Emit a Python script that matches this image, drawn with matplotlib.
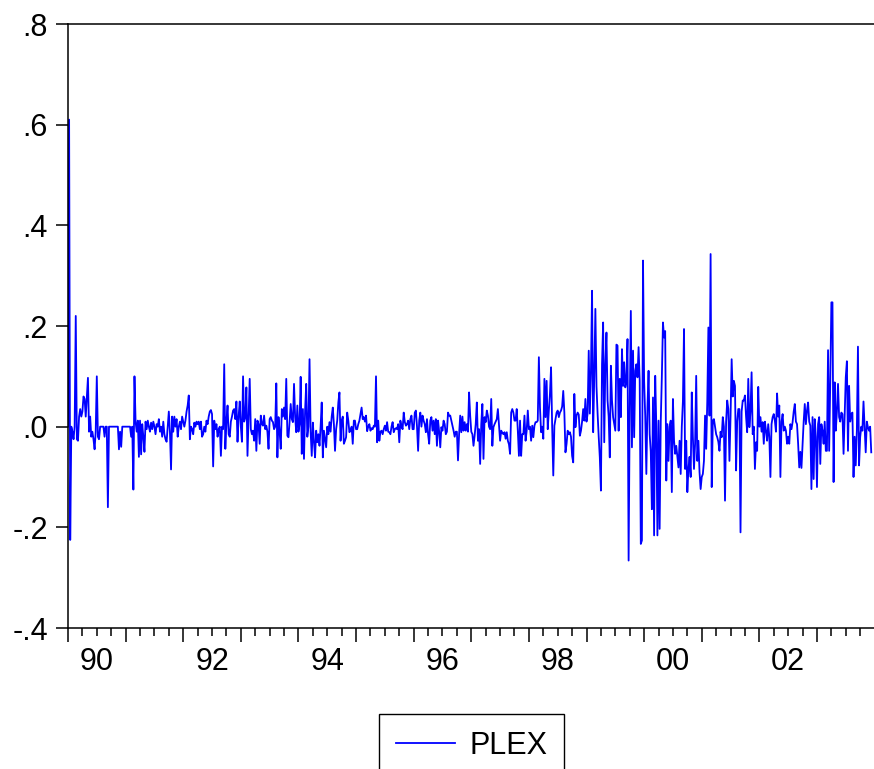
import numpy as np
import matplotlib
matplotlib.use("Agg")
import matplotlib.pyplot as plt

plt.rcParams['font.family'] = ['Liberation Sans', 'DejaVu Sans']

# weekly PLEX values, one list per year
y1990 = [0.0, 0.61, -0.225, 0.0, -0.01, -0.025, 0.0, 0.22, -0.025, -0.028, 0.02, 0.035, 0.02,
         0.03, 0.06, 0.055, 0.02, 0.06, 0.097, -0.01, 0.02, -0.02, -0.01, -0.025, -0.045, -0.01,
         0.1, -0.02, -0.025, 0.0, 0.0, 0.0, 0.0, -0.02, 0.0, 0.0, -0.16, 0.0, 0.0,
         0.0, 0.0, 0.0, 0.0, 0.0, 0.0, 0.0, -0.045, -0.01, -0.04, 0.0, 0.0, 0.0]
y1991 = [0.0, 0.0, 0.0, 0.0, 0.0, -0.02, 0.0, -0.125, 0.1, 0.01, -0.01, 0.012, -0.06,
         0.012, -0.055, 0.005, -0.02, -0.05, 0.01, -0.005, 0.012, 0.0, -0.01, 0.008, -0.005, 0.01,
         0.0, -0.015, 0.005, 0.0, 0.015, -0.01, 0.0, -0.02, 0.01, -0.015, -0.025, -0.03, 0.0,
         0.03, -0.01, -0.085, 0.02, -0.01, 0.02, 0.0, 0.015, -0.02, 0.0, 0.01, -0.005, 0.02]
y1992 = [0.01, 0.0, 0.012, 0.03, 0.042, 0.062, -0.025, 0.0, -0.005, -0.015, 0.008, 0.0, 0.01,
         0.005, 0.01, -0.005, 0.01, -0.02, -0.015, 0.0, -0.01, 0.012, 0.005, 0.02, 0.03, 0.033,
         0.025, -0.079, 0.012, -0.005, 0.005, -0.02, -0.005, 0.0, -0.058, 0.0, -0.005, 0.124, -0.044,
         0.01, 0.042, -0.015, -0.02, 0.01, 0.02, 0.032, 0.035, 0.015, 0.05, -0.03, 0.02, 0.05]
y1993 = [0.0, -0.03, 0.1, 0.01, 0.018, 0.078, -0.058, 0.02, 0.095, -0.005, -0.015, -0.008, -0.028,
         0.015, -0.048, 0.012, 0.005, -0.034, 0.022, 0.005, 0.002, 0.022, -0.005, 0.002, -0.01, -0.044,
         0.015, 0.019, 0.012, 0.009, -0.005, 0.0, 0.086, -0.061, 0.019, -0.01, -0.044, 0.035, 0.02,
         0.038, 0.015, 0.095, -0.018, -0.021, 0.01, 0.045, 0.015, 0.009, 0.085, 0.02, -0.011, 0.042]
y1994 = [-0.01, 0.005, 0.099, -0.054, 0.035, -0.064, 0.032, 0.085, -0.02, 0.0, 0.134, -0.01, -0.058,
         0.008, -0.03, -0.061, -0.008, -0.031, -0.015, -0.038, 0.0, 0.048, -0.061, -0.008, -0.025, -0.041,
         0.0, -0.015, 0.009, -0.01, 0.02, 0.038, 0.005, -0.048, -0.005, 0.012, 0.048, 0.068, -0.028,
         0.012, 0.02, -0.034, -0.028, -0.021, 0.028, 0.012, -0.011, -0.008, 0.0, -0.034, 0.012, 0.012]
y1995 = [-0.005, -0.005, 0.005, 0.012, 0.025, 0.038, 0.015, 0.019, 0.01, 0.022, -0.009, 0.0, 0.005,
         -0.008, -0.003, -0.005, 0.002, 0.0, 0.1, -0.031, 0.012, -0.028, -0.01, -0.008, -0.015, -0.005,
         0.002, -0.008, 0.009, -0.01, -0.011, -0.015, 0.0, 0.009, -0.011, -0.005, -0.003, -0.005, 0.005,
         -0.031, 0.012, 0.0, -0.005, 0.028, 0.009, 0.002, 0.005, 0.012, -0.005, 0.015, 0.022, -0.005]
y1996 = [-0.005, 0.028, 0.032, 0.0, -0.048, 0.012, 0.028, 0.0, 0.022, 0.012, 0.005, -0.011, 0.015,
         -0.015, -0.034, 0.012, 0.019, -0.008, 0.012, -0.015, 0.015, -0.038, 0.012, -0.01, -0.041, -0.001,
         -0.008, 0.012, 0.005, -0.015, -0.01, 0.028, 0.022, 0.022, 0.012, 0.002, -0.008, -0.02, -0.01,
         -0.01, -0.067, -0.015, 0.022, -0.011, 0.02, -0.008, 0.009, -0.008, 0.005, -0.01, 0.068, 0.022]
y1997 = [-0.01, -0.015, -0.038, -0.018, 0.005, 0.048, -0.028, -0.005, -0.074, 0.005, 0.045, -0.064, 0.019,
         0.009, 0.032, 0.022, 0.0, -0.005, 0.055, -0.038, -0.001, 0.005, 0.01, 0.015, 0.035, 0.002,
         -0.028, -0.008, -0.012, -0.015, -0.011, -0.024, -0.011, -0.028, -0.035, -0.054, 0.028, 0.035, 0.028,
         0.012, 0.012, 0.035, -0.008, -0.058, 0.012, -0.058, -0.015, -0.015, 0.022, -0.028, -0.008, 0.032]
y1998 = [-0.005, 0.0, -0.028, 0.002, -0.021, 0.002, 0.009, 0.009, 0.012, 0.138, 0.038, -0.011, 0.0,
         -0.024, 0.095, 0.019, 0.091, -0.005, 0.032, 0.065, 0.118, 0.0, -0.097, 0.002, 0.015, 0.028,
         0.032, 0.019, 0.028, 0.032, 0.04, 0.071, 0.028, -0.051, -0.034, -0.008, -0.015, -0.011, -0.02,
         -0.058, -0.071, 0.065, -0.001, 0.022, 0.028, 0.024, -0.018, -0.008, 0.01, 0.035, 0.012, 0.055]
y1999 = [0.01, 0.026, 0.151, 0.026, 0.111, 0.27, -0.011, 0.1, 0.234, 0.08, 0.026, -0.02, -0.061,
         -0.127, 0.124, 0.207, -0.031, 0.124, 0.187, 0.052, 0.02, -0.061, 0.121, 0.052, 0.019, 0.005,
         -0.008, 0.163, 0.161, -0.008, 0.095, 0.019, 0.154, 0.081, 0.128, 0.078, 0.09, 0.174, -0.266,
         0.038, 0.23, -0.041, 0.151, -0.021, 0.111, 0.124, 0.098, 0.158, 0.091, -0.233, -0.226, 0.33]
y2000 = [0.091, 0.02, -0.094, 0.038, 0.111, -0.015, -0.05, -0.164, 0.058, -0.216, 0.101, 0.0, -0.216,
         0.012, -0.203, 0.009, 0.1, 0.207, 0.177, 0.19, -0.107, 0.005, -0.068, 0.0, 0.012, -0.13,
         0.055, -0.028, -0.054, -0.038, -0.06, -0.081, -0.028, -0.094, 0.0, 0.05, 0.194, -0.084, -0.028,
         -0.13, -0.084, -0.06, -0.1, 0.068, -0.02, -0.084, -0.034, 0.101, -0.068, -0.028, -0.09, -0.124]
y2001 = [-0.1, -0.094, -0.068, 0.022, -0.044, 0.05, 0.197, 0.022, 0.343, -0.12, 0.012, 0.015, 0.0,
         -0.015, -0.021, -0.03, -0.048, -0.01, -0.021, 0.019, 0.0, -0.147, 0.01, 0.052, 0.035, -0.068,
         0.02, 0.134, 0.06, 0.091, 0.081, -0.087, 0.01, 0.035, 0.035, -0.21, 0.03, 0.052, 0.052,
         0.062, 0.02, -0.011, 0.095, -0.001, 0.03, 0.108, -0.015, 0.0, -0.084, -0.031, -0.048, 0.079]
y2002 = [0.0, 0.019, -0.01, 0.009, -0.034, 0.01, -0.008, -0.028, 0.005, -0.02, -0.1, 0.005, 0.019,
         0.025, 0.012, -0.01, 0.066, 0.02, 0.042, -0.1, 0.01, 0.025, -0.008, 0.0, -0.008, -0.034,
         -0.02, -0.034, 0.005, -0.005, 0.009, 0.03, 0.045, 0.01, 0.005, -0.034, -0.081, -0.05, -0.082,
         -0.034, 0.01, 0.045, 0.005, 0.032, 0.048, 0.01, 0.002, -0.124, 0.019, -0.104, 0.015, -0.02]
y2003 = [-0.12, 0.005, 0.019, -0.074, 0.005, -0.008, -0.034, 0.01, -0.048, -0.048, 0.152, -0.048, 0.088,
         0.247, 0.247, -0.11, 0.088, -0.008, 0.03, 0.085, 0.019, 0.01, 0.028, 0.025, -0.054, 0.02,
         0.098, 0.13, -0.048, 0.081, 0.01, 0.025, 0.028, -0.1, -0.02, -0.077, -0.008, 0.159, -0.077,
         -0.021, 0.0, -0.008, 0.05, -0.001, -0.051, 0.01, -0.001, -0.008, 0.0, -0.051]

years = list(range(1990, 2004))
yearly = [y1990, y1991, y1992, y1993, y1994, y1995, y1996,
          y1997, y1998, y1999, y2000, y2001, y2002, y2003]

year_labels = ["90", "92", "94", "96", "98", "00", "02"]
ytick_vals = [-0.4, -0.2, 0.0, 0.2, 0.4, 0.6, 0.8]
ytick_labels = ["-.4", "-.2", ".0", ".2", ".4", ".6", ".8"]

# time axis in decimal years, 52 weeks per year
t = []
v = []
for yr, vals in zip(years, yearly):
    for i, val in enumerate(vals):
        t.append(yr + i / 52.0)
        v.append(val)

W, H = 874, 769
FS = 22
fig = plt.figure(figsize=(W / 100, H / 100), dpi=100)
ax = fig.add_axes([68 / W, 1 - 628 / H, 1 - 68 / W, (628 - 24) / H])

line, = ax.plot(t, v, color="#0000ff", lw=1.3, label="PLEX")

ax.set_xlim(1990, 2003.99)
ax.set_ylim(-0.4, 0.8)

ax.set_yticks(ytick_vals)
ax.set_yticklabels(ytick_labels)
ax.set_xticks(years)
ax.set_xticklabels([])
ax.set_xticks([yr + q / 4 for yr in years for q in (1, 2, 3)], minor=True)

ax.tick_params(axis="x", which="major", direction="out", length=10, width=1.1)
ax.tick_params(axis="x", which="minor", direction="out", length=6, width=1.1)
ax.tick_params(axis="y", direction="out", length=8.5, width=1.1, pad=6, labelsize=FS)

for s in ["left", "bottom", "top"]:
    ax.spines[s].set_linewidth(1.1)
ax.spines["right"].set_visible(False)

for k, lab in enumerate(year_labels):
    ax.annotate(lab, xy=(years[2 * k] + 0.5, 0), xycoords=("data", "axes fraction"),
                xytext=(0, -14), textcoords="offset points",
                ha="center", va="top", fontsize=FS)

leg = fig.legend(handles=[line], loc="upper center",
                 bbox_to_anchor=(471.5 / W, 1 - 714 / H), borderaxespad=0,
                 fancybox=False, edgecolor="black", framealpha=1,
                 fontsize=FS, handlelength=1.95, handletextpad=0.45, borderpad=0.55)
leg.get_frame().set_linewidth(1.0)

fig.savefig("out.png", dpi=100)
